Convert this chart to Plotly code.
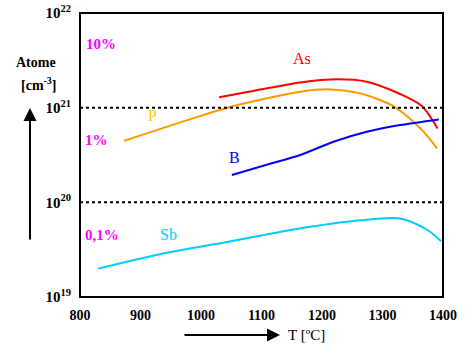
import plotly.graph_objects as go

# Data (temperature in °C, solubility in atoms/cm^3 as log10 values)
as_T = [1030, 1081, 1164, 1225, 1274, 1329, 1365, 1391]
as_log = [21.11, 21.17, 21.267, 21.30, 21.274, 21.144, 21.017, 20.78]
p_T = [873, 998, 1054, 1164, 1214, 1263, 1318, 1351, 1373, 1390]
p_log = [20.65, 20.911, 21.017, 21.168, 21.193, 21.151, 21.017, 20.851, 20.71, 20.57]
b_T = [1051, 1110, 1164, 1219, 1274, 1329, 1393]
b_log = [20.288, 20.40, 20.50, 20.64, 20.745, 20.816, 20.876]
sb_T = [830, 932, 1043, 1153, 1263, 1329, 1373, 1397]
sb_log = [19.30, 19.452, 19.58, 19.713, 19.81, 19.83, 19.713, 19.59]

x_ticks = [800, 900, 1000, 1100, 1200, 1300, 1400]
y_major = [19, 20, 21, 22]

X_RANGE = [800, 1400]
Y_RANGE = [19, 22]

FONT = "Liberation Serif"

fig = go.Figure()

def add(T, lg, color):
    fig.add_trace(go.Scatter(x=T, y=lg, mode="lines",
                             line=dict(color=color, width=2, shape="spline", smoothing=0.8),
                             showlegend=False, hoverinfo="skip"))

add(as_T, as_log, "#FF0000")
add(p_T, p_log, "#FF9900")
add(b_T, b_log, "#0000FF")
add(sb_T, sb_log, "#00CCFF")

# dotted reference lines at 1e21 and 1e20
for v in [21, 20]:
    fig.add_trace(go.Scatter(x=X_RANGE, y=[v, v], mode="lines",
                             line=dict(color="black", width=2, dash="dot"),
                             showlegend=False, hoverinfo="skip"))

# y axis is linear in log10 units (equivalent to a log axis)
tickvals = []
ticktext = []
for d in y_major[:-1]:
    tickvals += [d, d + 0.30103, d + 0.69897]
    ticktext += ["10<sup>%d</sup>" % d, " ", " "]
tickvals.append(y_major[-1])
ticktext.append("10<sup>%d</sup>" % y_major[-1])

fig.update_layout(
    width=472, height=353, autosize=False,
    margin=dict(l=80, r=29, t=13, b=56, autoexpand=False),
    paper_bgcolor="white", plot_bgcolor="white",
    font=dict(family=FONT, size=13, color="black"),
    xaxis=dict(range=X_RANGE, tickvals=x_ticks, ticks="outside", ticklen=5,
               tickcolor="rgba(0,0,0,0)", showline=False,
               showgrid=False, zeroline=False, automargin=False,
               tickfont=dict(family=FONT, size=14, color="black", weight="bold")),
    yaxis=dict(range=Y_RANGE, tickvals=tickvals, ticktext=ticktext,
               ticks="outside", ticklen=5, tickcolor="rgba(0,0,0,0)",
               showline=False, automargin=False,
               showgrid=False, zeroline=False,
               tickfont=dict(family=FONT, size=15, color="black", weight="bold")),
)

# frame
fig.add_shape(type="rect", xref="paper", yref="paper", x0=0, x1=1, y0=0, y1=1,
              line=dict(color="black", width=2), layer="above")

# tick marks drawn as an unclipped line trace
dy = 7 / 284 * (Y_RANGE[1] - Y_RANGE[0])
dx = 6 / 363 * (X_RANGE[1] - X_RANGE[0])
tx, ty = [], []
for v in x_ticks:
    tx += [v, v, None]
    ty += [Y_RANGE[0], Y_RANGE[0] - dy, None]
for v in tickvals:
    tx += [X_RANGE[0], X_RANGE[0] - dx, None]
    ty += [v, v, None]
fig.add_trace(go.Scatter(x=tx, y=ty, mode="lines", cliponaxis=False,
                         line=dict(color="black", width=2),
                         showlegend=False, hoverinfo="skip"))

def label(x, y, text, color, size=16, bold=False):
    t = "<b>%s</b>" % text if bold else text
    fig.add_annotation(x=x, y=y, xref="x", yref="y", text=t, showarrow=False,
                       xanchor="center", yanchor="middle",
                       font=dict(family=FONT, size=size, color=color))

label(1167, 21.52, "As", "#FF0000")
label(919, 20.92, "P", "#FFCC00")
label(1056, 20.47, "B", "#0000FF")
label(946, 19.66, "Sb", "#00CCFF")
label(835, 21.67, "10%", "#FF00FF", 15, True)
label(828, 20.66, "1%", "#FF00FF", 15, True)
label(836, 19.66, "0,1%", "#FF00FF", 15, True)

def paper(text, px, py, size=14, bold=True):
    t = "<b>%s</b>" % text if bold else text
    fig.add_annotation(x=(px - 80) / 363, y=(297 - py) / 284, xref="paper", yref="paper",
                       text=t, showarrow=False,
                       xanchor="center", yanchor="middle",
                       font=dict(family=FONT, size=size, color="black"))

paper("Atome", 36, 62)
paper("[cm<sup>-3</sup>]", 38, 84)
paper("T [ºC]", 306, 335, 15, False)

# arrows
fig.add_annotation(x=(30 - 80) / 363, y=(297 - 108) / 284, xref="paper", yref="paper",
                   ax=0, ay=133, text="", showarrow=True,
                   arrowhead=2, arrowsize=1.3, arrowwidth=2, arrowcolor="black")
fig.add_annotation(x=(280 - 80) / 363, y=(297 - 335) / 284, xref="paper", yref="paper",
                   ax=-97, ay=0, text="", showarrow=True,
                   arrowhead=2, arrowsize=1.3, arrowwidth=2, arrowcolor="black")

fig.write_html("out.html")
